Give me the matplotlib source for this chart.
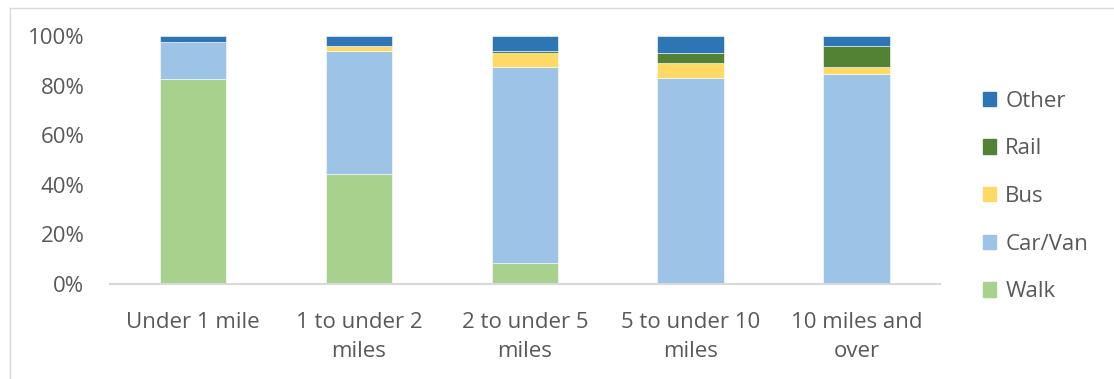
import matplotlib
matplotlib.use("Agg")
import matplotlib.pyplot as plt
from matplotlib.lines import Line2D
import numpy as np

categories = ["Under 1 mile", "1 to under 2\nmiles", "2 to under 5\nmiles", "5 to under 10\nmiles", "10 miles and\nover"]
walk = [82.5, 44.5, 8.6, 0.6, 0.3]
car_van = [15.1, 49.6, 79.0, 82.6, 84.5]
bus = [0.0, 1.9, 5.4, 5.9, 2.8]
rail = [0.0, 0.0, 0.9, 3.9, 8.5]
other = [2.4, 4.0, 6.1, 7.0, 3.9]

series = [("Walk", walk, "#A9D18E"), ("Car/Van", car_van, "#9DC3E6"),
          ("Bus", bus, "#FFD966"), ("Rail", rail, "#548235"), ("Other", other, "#2E75B6")]

plt.rcParams['font.family'] = ['Open Sans', 'DejaVu Sans']
txt = "#595959"
fs = 16

fig = plt.figure(figsize=(11.14, 3.79), dpi=100)
ax = fig.add_axes([110/1114, 1-284/379, (939.5-110)/1114, (284-36)/379])

x = np.arange(len(categories))
bottom = np.zeros(len(categories))
handles = []
for name, vals, col in series:
    v = np.array(vals) / 100.0
    ax.bar(x, v, 0.4, bottom=bottom, color=col, edgecolor="white", linewidth=0.4, label=name)
    bottom += v
    handles.append(plt.Rectangle((0, 0), 1, 1, color=col))

ax.set_xlim(-0.5, len(categories) - 0.5)
ax.set_ylim(0, 1)
ax.set_yticks(np.linspace(0, 1, 6))
ax.set_yticklabels([f"{int(t*100)}%" for t in np.linspace(0, 1, 6)])
ax.set_xticks(x)
ax.set_xticklabels(categories, linespacing=1.5)
for s in ["top", "right", "left"]:
    ax.spines[s].set_visible(False)
ax.spines["bottom"].set_color("#D9D9D9")
ax.spines["bottom"].set_linewidth(1.5)
ax.tick_params(axis="both", length=0, labelsize=fs, colors=txt)
ax.tick_params(axis="y", pad=18.5)
ax.tick_params(axis="x", pad=20.5)

leg = fig.legend(handles[::-1], [s[0] for s in series][::-1], loc="center left",
                 bbox_to_anchor=(983/1114, 1-196.5/379), frameon=False, fontsize=fs,
                 handlelength=0.6, handleheight=0.6, handletextpad=0.4, labelspacing=1.2,
                 borderpad=0, borderaxespad=0, labelcolor=txt)

# chart frame
fig.add_artist(Line2D([9.5/1114, 9.5/1114], [0, 1-7.5/379], transform=fig.transFigure, color="#D9D9D9", lw=1))
fig.add_artist(Line2D([9.5/1114, 1113/1114], [1-7.5/379, 1-7.5/379], transform=fig.transFigure, color="#D9D9D9", lw=1))

fig.savefig("out.png", dpi=100)
